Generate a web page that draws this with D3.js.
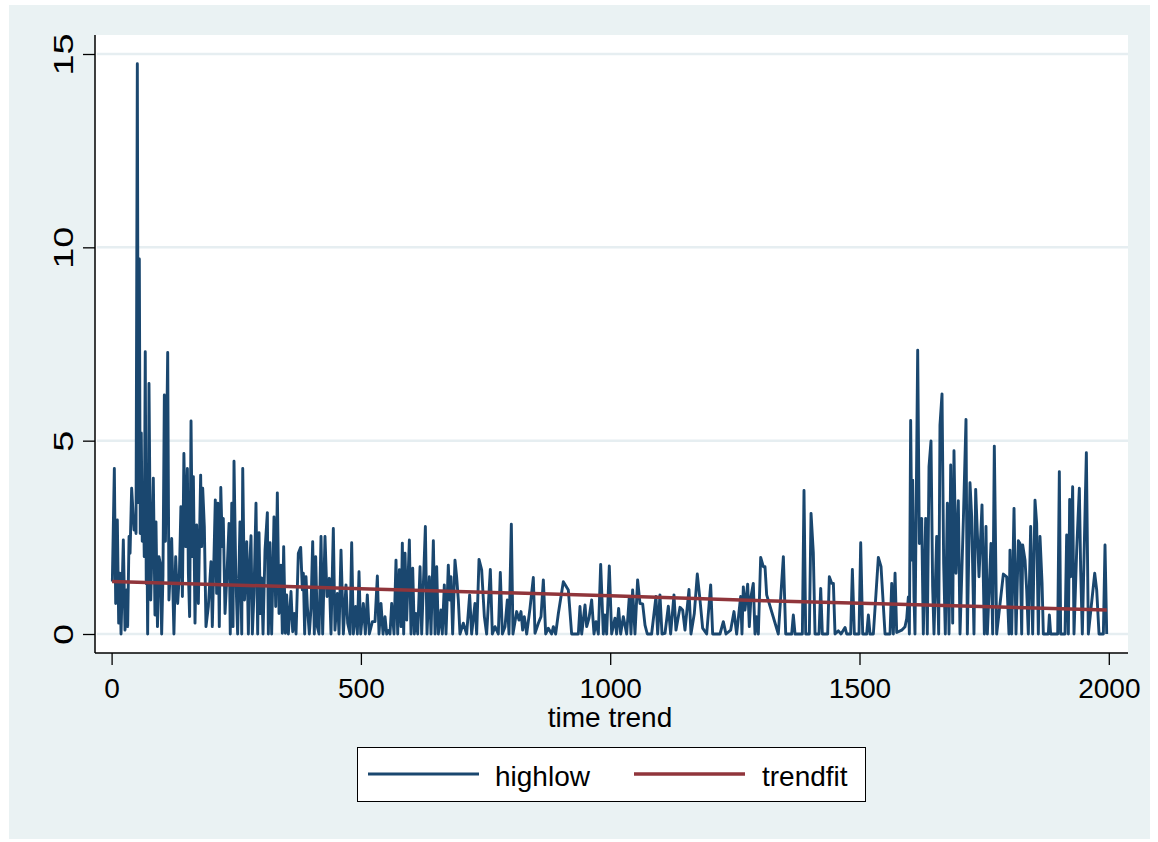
<!DOCTYPE html>
<html>
<head>
<meta charset="utf-8">
<script src="https://cdn.jsdelivr.net/npm/d3@7"></script>
<style>
  body { margin: 0; background: #ffffff; }
  text { font-family: "Liberation Sans", Arial, sans-serif; fill: #000; }
</style>
</head>
<body>
<div id="vis"></div>
<script>
// declare constants
const FRAME_WIDTH = 1158;
const FRAME_HEIGHT = 842;
const PLOT = {left: 95, right: 1128, top: 35, bottom: 653};

// data: [time trend, highlow]
const highlow = [
  [1.5,1.36],[5.5,4.28],[8.2,0.79],[11.5,2.95],[14.2,0.28],[16.8,1.57],[18.9,0],[23.5,2.43],
  [26.9,0.1],[30.2,1.14],[32.2,0.19],[35,2.52],[37,2.09],[40.2,3.77],[45,2.69],[47,3.0],
  [49,2.6],[51.6,14.75],[53.6,3.4],[55.6,9.7],[57.5,2.6],[59.5,5.2],[61.5,2.4],[63.5,3.8],
  [65.5,2.0],[67.5,7.3],[69.5,1.3],[71,2.3],[72.3,0],[73.5,2.0],[75,6.48],[78.5,0.88],
  [81,2.2],[83.7,4.03],[87,0.49],[89,2.9],[92,0.19],[95,2.0],[98,1.8],[100.4,0],
  [103,1.5],[105.8,6.18],[108,2.4],[112.5,7.28],[115,0.88],[120.5,2.47],[125,0],[128.5,2.0],
  [132.5,0.79],[136,1.57],[139,3.29],[142,0.97],[145,4.67],[148.5,2.26],[152,4.28],[154,1.57],
  [156.5,0.45],[159.3,5.51],[162,2.0],[164,4.07],[167.3,0.28],[170.6,2.82],[174,0.79],[178.6,4.11],
  [180.6,2.26],[182.7,3.77],[186,2.78],[189.3,0.19],[194,0.71],[199.4,1.87],[202,0.19],[208,3.47],
  [210.7,1.05],[213,3.38],[216,0.19],[219,3.79],[222,2.26],[224,2.99],[227.5,0.53],[231.5,1.57],
  [235.5,2.86],[238,0],[241,3.38],[243.5,0.19],[245.5,4.47],[249,1.57],[252.8,0],[257.5,2.9],
  [261,0],[263,4.28],[266.5,0.88],[271,2.39],[274.3,0],[276.3,1.57],[279.6,2.54],[282.3,0],
  [285.6,1.05],[289.6,3.38],[293,0],[295.7,2.62],[298.3,0.53],[301,1.45],[303.7,0],[307.7,2.17],
  [312.4,3.14],[314.4,0],[317.7,2.36],[321,0],[325.7,3.03],[329.1,0.71],[332.4,3.65],[335.8,0.53],
  [339.8,1.78],[342.4,0.02],[345.1,2.26],[348.5,0.02],[351.1,1.01],[354.5,0],[359.8,1.1],[363.2,0.06],
  [366.5,0.53],[369.9,0],[374.5,2.09],[379.2,2.24],[382.6,1.14],[384.6,1.57],[387.2,0],[389.9,1.48],
  [392.6,0.71],[396.6,0],[399.9,0.66],[403.3,2.39],[406.6,0],[409.3,2.0],[412.6,0.19],[416,0],
  [420,2.52],[423.3,0],[428,2.52],[432,0.97],[436.7,1.44],[440,0],[444.7,2.73],[448,0.1],
  [452.8,1.05],[456.1,0],[460.1,2.17],[464.8,0],[470.1,1.27],[473.5,0.28],[478.2,0],[481.5,2.36],
  [484.9,0],[489.5,0.71],[492.9,0],[496.2,1.61],[499.6,0],[504.9,0.79],[508.9,0],[512.9,1.01],
  [516.9,0],[523,0.32],[528.3,0.32],[533,1.5],[536.3,0],[540.3,0.79],[544.4,0],[548.4,0.45],
  [551.7,0],[555.1,0.09],[558.4,0],[561.7,0.79],[566.4,0],[570.4,1.91],[573.8,0],[577.1,1.66],
  [580.5,0.19],[583.1,2.35],[585.8,0],[588.5,2.09],[591.8,0.36],[597.2,2.43],[600.5,0],[603.9,1.7],
  [607.2,0],[610.5,0.53],[613.9,0],[618.6,1.74],[621.9,0],[629.3,2.78],[632.6,0],[637.3,1.48],
  [640.6,0],[645.3,2.41],[648.7,0],[652,1.74],[655.3,0],[660.6,0.62],[663.3,0],[667.3,1.27],
  [670.7,0],[675.3,1.78],[678,0.88],[680.7,1.48],[684,0],[688.7,1.91],[692,1.48],[695.4,0.88],
  [698.7,0],[705.4,0.28],[712.1,0],[718.1,1.01],[722.1,0],[728.8,0.79],[732.2,0],[736.9,1.93],
  [742.2,1.66],[747.6,0.45],[752.2,0],[759.6,1.67],[763.6,0],[769,0.19],[775.6,0],[779.6,1.59],
  [783.7,0],[789,0.19],[793.7,0.88],[797,0],[801.7,2.84],[805,0],[812.4,0.58],[817.1,0.36],
  [821.1,0.58],[824.4,0.1],[827.8,0.45],[832.5,0],[839.1,0.66],[845.8,1.46],[849.2,0.02],[855.9,0.28],
  [861.2,0.45],[865.9,1.4],[870.6,0],[875.9,0.15],[882.6,0],[886,0.19],[890.6,0],[896,0.53],
  [906,1.35],[916,1.14],[922.7,0],[936.1,0],[939.4,0.71],[942.8,0],[949.5,0.75],[952.8,0.19],
  [957.5,0.41],[962.8,0.88],[967.5,0],[971.5,0.32],[976.2,0],[980.9,1.8],[986.2,0],[989.5,0.49],
  [992.9,0],[998.2,1.76],[1002.9,0],[1009.6,0.41],[1012.9,0],[1016.9,0.66],[1021,0],[1026.3,0.45],
  [1029.6,0.23],[1033,0],[1038.3,0.97],[1041.7,0],[1045,1.14],[1049.7,0],[1055,1.4],[1059.7,0.79],
  [1065.1,0.78],[1069.8,0.23],[1074.4,0],[1083.1,0],[1091.8,0.97],[1095.2,0],[1099.8,1.01],[1103.9,0],
  [1109.9,0.02],[1116.6,0.72],[1121.2,0],[1127.9,1.01],[1131.9,0.1],[1140,0.69],[1145.3,0.62],[1150,0.1],
  [1158,1.15],[1162,0],[1168.7,0.53],[1174.7,1.55],[1180.1,0.88],[1185.4,0.15],[1193.5,0],[1201.5,1.27],
  [1205.5,0],[1220.2,0],[1226.9,0.32],[1232.2,0],[1241.6,0.1],[1248.3,0.58],[1253.6,0],[1261.7,0.97],
  [1264.3,0],[1267,1.22],[1270.3,0.62],[1275.7,1.29],[1279,0.19],[1282.4,0.97],[1287,1.31],[1290.4,0],
  [1293.7,0.45],[1297.1,0],[1301.8,1.98],[1307.1,1.74],[1310.5,1.74],[1313.8,1.01],[1337.2,0],[1347.3,2.0],
  [1352,0],[1364,0],[1367.3,0.49],[1370.7,0],[1385.4,0],[1388.7,3.71],[1392.1,0],[1399.4,0],
  [1402.8,3.12],[1407.4,2.09],[1410.8,0],[1418.8,0],[1422.2,1.18],[1425.5,0],[1436.2,0],[1439.5,1.48],
  [1444.2,1.31],[1447.6,1.31],[1450.9,0],[1457.6,0.08],[1463,0],[1471,0.17],[1474.3,0],[1482.3,0],
  [1485.7,1.67],[1489.7,0],[1499,0],[1502.4,2.36],[1506.4,0],[1514.4,0],[1517.8,0.49],[1521.1,0],
  [1527.8,0],[1537.8,1.98],[1543.2,1.74],[1551.2,0],[1561.2,0],[1564.6,1.31],[1567.9,0],[1571.3,1.57],
  [1574.6,0.04],[1584.6,0.1],[1591.3,0.19],[1594.7,0.4],[1598,0.96],[1600,0],[1602.6,5.52],[1605.3,1.91],
  [1606.6,3.98],[1609.3,0.96],[1611.3,0],[1616.7,7.34],[1620,2.34],[1624.7,2.99],[1628,0],[1632.7,2.99],
  [1636,0],[1639.4,4.33],[1643.4,4.99],[1646.7,1.22],[1649.4,0],[1654.8,2.52],[1658.8,0],[1661.4,5.4],
  [1665.5,6.21],[1668.8,1.83],[1672.1,0],[1676.2,3.38],[1679.5,0],[1682.9,4.37],[1686.9,0.28],[1689.5,4.74],
  [1693.5,1.57],[1698.2,3.45],[1701.6,0],[1708.3,2.95],[1713.6,5.55],[1716.3,0],[1721.6,3.91],[1725,3.03],
  [1729.6,0],[1733,3.74],[1739.7,1.48],[1745.7,3.34],[1750.4,0],[1753.7,2.78],[1756.4,0],[1763.7,2.34],
  [1767.1,0],[1770.4,4.86],[1775.1,0],[1788.5,1.55],[1795.2,1.48],[1799.8,0],[1801.8,2.17],[1805.2,0],
  [1809.9,3.25],[1813.9,0],[1818.6,2.41],[1821.9,2.34],[1825.3,0],[1827.3,2.3],[1832,1.91],[1835.3,1.14],
  [1838.6,0],[1843.3,2.78],[1847.3,0],[1852,3.46],[1855.3,2.86],[1858.7,0],[1862,2.52],[1866.1,1.33],
  [1868.7,0],[1878.7,0],[1880.8,0.49],[1883.4,0],[1897.5,0],[1900.8,4.2],[1903.5,0],[1912.2,0],
  [1915.5,2.56],[1918.9,0],[1921.5,3.48],[1923.5,1.48],[1927.5,3.81],[1930.2,0],[1935.6,2.17],[1940.9,3.77],
  [1943.6,1.64],[1946.9,0],[1955,4.69],[1959,0],[1971.7,1.57],[1975.7,1.14],[1980.4,0],[1989.1,0],
  [1992.4,2.3],[1995.8,0]
];

// fitted trend, read at a few points
const trendfit = [[1,1.36],[500,1.17],[1000,0.99],[1310,0.86],[1541,0.78],[1996,0.62]];

const X_TICKS = [0, 500, 1000, 1500, 2000];
const Y_TICKS = [0, 5, 10, 15];
const SERIES = ["highlow", "trendfit"];
const COLORS = ["#1a476f", "#90353b"];
const WIDTHS = [2.9, 3.5];

const SVG = d3.select("#vis")
  .append("svg")
    .attr("width", FRAME_WIDTH)
    .attr("height", FRAME_HEIGHT);

// graph region and plot region
SVG.append("rect")
    .attr("x", 9).attr("y", 5)
    .attr("width", 1141).attr("height", 834)
    .attr("fill", "#eaf2f3");
SVG.append("rect")
    .attr("x", PLOT.left).attr("y", PLOT.top)
    .attr("width", PLOT.right - PLOT.left).attr("height", PLOT.bottom - PLOT.top)
    .attr("fill", "#ffffff");

const X_SCALE = d3.scaleLinear().domain([0, 2000]).range([111.6, 1108.8]);
const Y_SCALE = d3.scaleLinear().domain([0, 15]).range([634, 54]);

// grid lines
SVG.append("g")
  .selectAll("line")
  .data(Y_TICKS)
  .enter()
  .append("line")
    .attr("x1", PLOT.left + 2).attr("x2", PLOT.right)
    .attr("y1", d => Y_SCALE(d)).attr("y2", d => Y_SCALE(d))
    .attr("stroke", "#e6eef1")
    .attr("stroke-width", 2.5);

// lines
const LINE = d3.line().x(d => X_SCALE(d[0])).y(d => Y_SCALE(d[1]));

SVG.append("path")
    .datum(highlow)
    .attr("d", LINE)
    .attr("fill", "none")
    .attr("stroke", COLORS[0])
    .attr("stroke-width", WIDTHS[0])
    .attr("stroke-linejoin", "round");

SVG.append("path")
    .datum(trendfit)
    .attr("d", LINE)
    .attr("fill", "none")
    .attr("stroke", COLORS[1])
    .attr("stroke-width", WIDTHS[1]);

// x axis
const xAxis = SVG.append("g")
    .attr("transform", "translate(0," + PLOT.bottom + ")")
    .call(d3.axisBottom(X_SCALE).tickValues(X_TICKS).tickFormat(d3.format("d"))
            .tickSize(12).tickSizeOuter(0).tickPadding(13));
xAxis.select(".domain").remove();
xAxis.selectAll("line").attr("stroke", "#000").attr("stroke-width", 1.3);
xAxis.selectAll("text")
    .attr("font-size", "28px")
    .attr("font-family", "Liberation Sans, Arial, sans-serif")
    .attr("fill", "#000");
SVG.append("line")
    .attr("x1", PLOT.left).attr("x2", PLOT.right)
    .attr("y1", PLOT.bottom).attr("y2", PLOT.bottom)
    .attr("stroke", "#000").attr("stroke-width", 1.5);

// y axis (labels are drawn stretched along their direction, as in the original)
const yAxis = SVG.append("g")
    .attr("transform", "translate(" + PLOT.left + ",0)")
    .call(d3.axisLeft(Y_SCALE).tickValues(Y_TICKS).tickFormat(d3.format("d"))
            .tickSize(12).tickSizeOuter(0));
yAxis.select(".domain").remove();
yAxis.selectAll("line").attr("stroke", "#000").attr("stroke-width", 1.3);
yAxis.selectAll("text")
    .attr("font-size", "28px")
    .attr("font-family", "Liberation Sans, Arial, sans-serif")
    .attr("fill", "#000")
    .attr("text-anchor", "middle")
    .attr("dy", 0)
    .attr("x", 0)
    .attr("transform", "translate(-22,0) rotate(-90) scale(1.35,1)");
SVG.append("line")
    .attr("x1", PLOT.left).attr("x2", PLOT.left)
    .attr("y1", PLOT.top).attr("y2", PLOT.bottom)
    .attr("stroke", "#000").attr("stroke-width", 1.5);

// axis title
SVG.append("text")
    .attr("x", 610).attr("y", 727)
    .attr("text-anchor", "middle")
    .attr("font-size", "28px")
    .text("time trend");

// legend
SVG.append("rect")
    .attr("x", 357.5).attr("y", 747.5)
    .attr("width", 508).attr("height", 54)
    .attr("fill", "#ffffff")
    .attr("stroke", "#000").attr("stroke-width", 1);

const LEGEND = SVG.append("g")
  .selectAll("g")
  .data(SERIES)
  .enter()
  .append("g")
    .attr("transform", (d, i) => "translate(" + (368 + i * 266) + ",774)");
LEGEND.append("line")
    .attr("x1", 0).attr("x2", 111)
    .attr("stroke", (d, i) => COLORS[i])
    .attr("stroke-width", (d, i) => WIDTHS[i]);
LEGEND.append("text")
    .attr("x", (d, i) => i === 0 ? 127 : 128)
    .attr("y", 12)
    .attr("font-size", "28px")
    .text(d => d);
</script>
</body>
</html>
